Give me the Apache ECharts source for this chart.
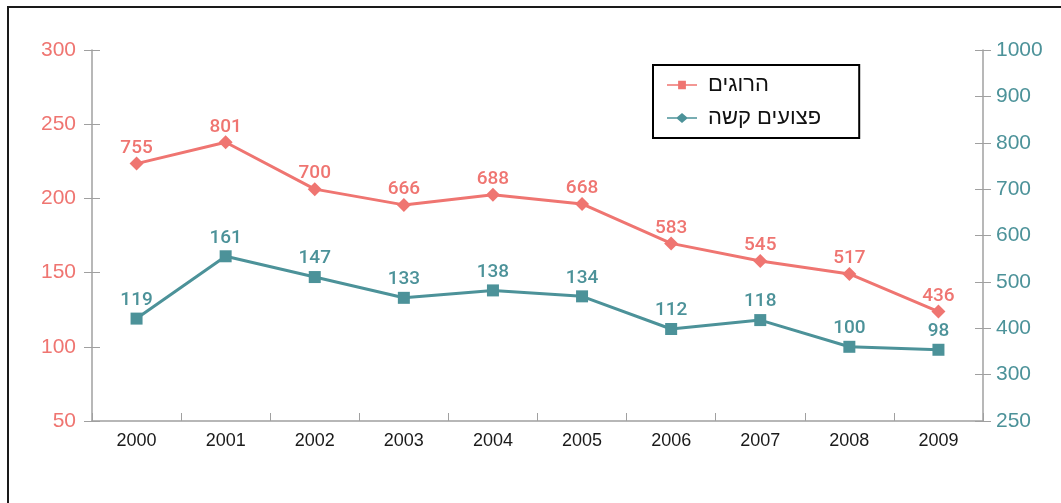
<!DOCTYPE html>
<html>
<head>
<meta charset="utf-8">
<style>
  html, body { margin: 0; padding: 0; background: #fff; }
  #chart-container { width: 1061px; height: 503px; }
</style>
<script src="https://cdn.jsdelivr.net/npm/echarts@6/dist/echarts.min.js"></script>
</head>
<body>
<div id="chart-container"></div>
<script>
var dom = document.getElementById("chart-container");
var myChart = echarts.init(dom, null, { renderer: "canvas" });

const years = ["2000", "2001", "2002", "2003", "2004", "2005", "2006", "2007", "2008", "2009"];
const killed = [755, 801, 700, 666, 688, 668, 583, 545, 517, 436];
const injured = [119, 161, 147, 133, 138, 134, 112, 118, 100, 98];
const leftTicks = ["50", "100", "150", "200", "250", "300"];
const rightTicks = ["250", "300", "400", "500", "600", "700", "800", "900", "1000"];

const RED = "#ef7571";
const TEAL = "#4c9299";
const AXIS = "#a0a0a0";
const CLEAR = "rgba(0,0,0,0)";

// legend icons: line + marker (square for red, diamond for teal)
const iconSquare = "path://M0,4.4 H10 V1.2 H17 V4.4 H27 V5.6 H17 V8.8 H10 V5.6 H0 Z";
const iconDiamond = "path://M0,4.4 H9 L13.5,0.5 L18,4.4 H27 V5.6 H18 L13.5,9.5 L9,5.6 H0 Z";

const gridBox = { left: 92, right: 78, top: 50, bottom: 82 };

// the second grid only draws the inner half of the crossing ticks
function innerTickAxis(pos, min, max, step) {
  return {
    type: "value",
    gridIndex: 1,
    position: pos,
    min: min,
    max: max,
    interval: step,
    splitLine: { show: false },
    axisLine: { show: true, lineStyle: { color: CLEAR } },
    axisTick: { show: true, inside: true, length: 8, lineStyle: { color: AXIS } },
    axisLabel: { show: false },
  };
}

var option = {
  animation: false,
  graphic: [
    {
      type: "rect",
      shape: { x: 8, y: 7, width: 1200, height: 700 },
      style: { fill: "none", stroke: "#1a1a1a", lineWidth: 2 },
      silent: true,
    },
  ],
  grid: [Object.assign({}, gridBox), Object.assign({}, gridBox)],
  legend: {
    orient: "vertical",
    left: 653,
    top: 65,
    padding: [9, 38, 9, 14],
    itemGap: 11,
    itemWidth: 30,
    itemHeight: 11,
    borderColor: "#000",
    borderWidth: 2,
    textStyle: { fontSize: 22, color: "#111", fontFamily: "Liberation Sans", padding: [0, 0, 0, 6] },
    data: [
      { name: "הרוגים", icon: iconSquare },
      { name: "פצועים קשה", icon: iconDiamond },
    ],
  },
  xAxis: [
    {
      type: "category",
      gridIndex: 0,
      data: years,
      boundaryGap: true,
      axisLine: { lineStyle: { color: AXIS, width: 1.5 } },
      axisTick: { length: 8, lineStyle: { color: AXIS } },
      axisLabel: { color: "#1a1a1a", fontSize: 18, margin: 11, fontFamily: "Liberation Sans" },
    },
    {
      type: "category",
      gridIndex: 1,
      data: years,
      position: "bottom",
      boundaryGap: true,
      axisLine: { show: true, onZero: false, lineStyle: { color: CLEAR } },
      axisTick: { show: true, inside: true, length: 8, lineStyle: { color: AXIS } },
      axisLabel: { show: false },
    },
  ],
  yAxis: [
    {
      type: "value",
      gridIndex: 0,
      position: "left",
      min: 50,
      max: 300,
      interval: 50,
      splitLine: { show: false },
      axisLine: { show: true, lineStyle: { color: AXIS, width: 1.5 } },
      axisTick: { show: true, length: 8, lineStyle: { color: AXIS } },
      axisLabel: {
        color: RED,
        fontSize: 21,
        margin: 16,
        fontFamily: "Liberation Sans",
        formatter: function (v, i) { return leftTicks[i]; },
      },
    },
    {
      type: "value",
      gridIndex: 0,
      position: "right",
      min: 200,
      max: 1000,
      interval: 100,
      splitLine: { show: false },
      axisLine: { show: true, lineStyle: { color: AXIS, width: 1.5 } },
      axisTick: { show: true, length: 8, lineStyle: { color: AXIS } },
      axisLabel: {
        color: TEAL,
        fontSize: 21,
        margin: 13,
        fontFamily: "Liberation Sans",
        formatter: function (v, i) { return rightTicks[i]; },
      },
    },
    innerTickAxis("left", 50, 300, 50),
    innerTickAxis("right", 200, 1000, 100),
  ],
  series: [
    {
      name: "הרוגים",
      type: "line",
      xAxisIndex: 0,
      yAxisIndex: 1,
      data: killed,
      symbol: "diamond",
      symbolSize: 14,
      color: RED,
      lineStyle: { width: 3, color: RED },
      label: {
        show: true,
        position: "top",
        distance: -1,
        color: RED,
        fontSize: 19,
        fontWeight: 500,
        fontFamily: "Roboto",
      },
    },
    {
      name: "פצועים קשה",
      type: "line",
      xAxisIndex: 0,
      yAxisIndex: 0,
      data: injured,
      symbol: "rect",
      symbolSize: 12,
      color: TEAL,
      lineStyle: { width: 3, color: TEAL },
      label: {
        show: true,
        position: "top",
        distance: 3,
        color: TEAL,
        fontSize: 19,
        fontWeight: 500,
        fontFamily: "Roboto",
      },
    },
  ],
};

if (option && typeof option === "object") {
  myChart.setOption(option);
}

window.addEventListener("resize", myChart.resize);
</script>
</body>
</html>
